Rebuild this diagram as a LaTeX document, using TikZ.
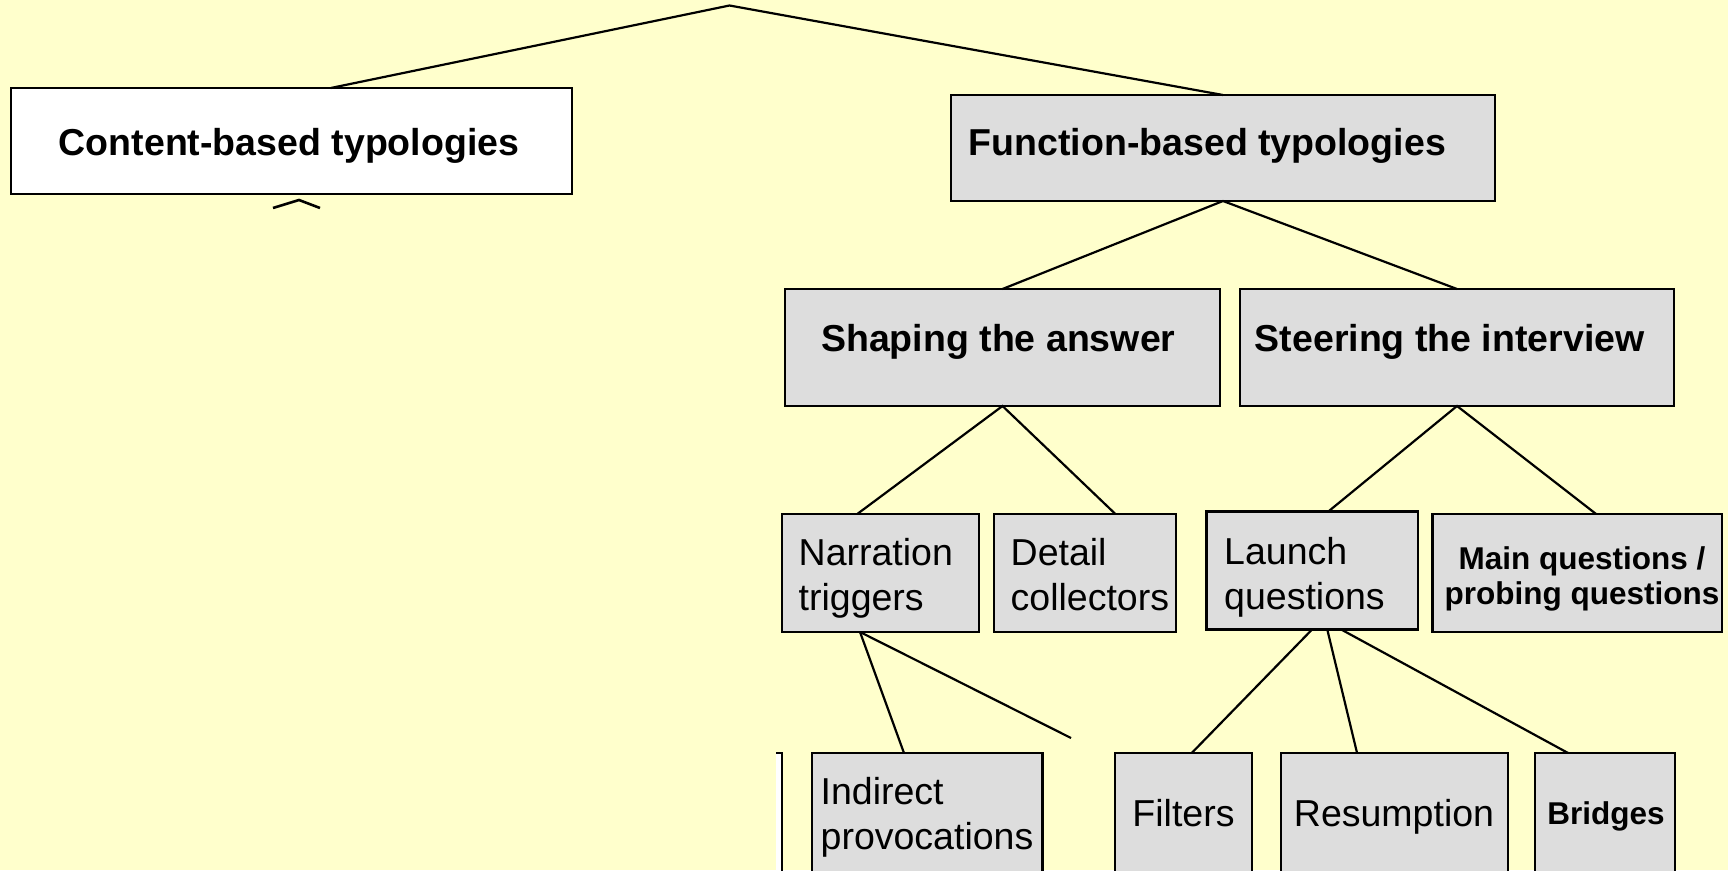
\documentclass[tikz,border=0pt]{standalone}
\usepackage{fontspec}
\setmainfont{Liberation Sans}
\usetikzlibrary{calc}
\definecolor{bgy}{HTML}{FFFFCC}
\definecolor{boxg}{HTML}{DDDDDD}
\newcommand\rA{\rule{0pt}{30pt}}
\newcommand\rB{\rule{0pt}{25pt}}
\begin{document}
\begin{tikzpicture}[x=1pt,y=-1pt,
  boxx/.style={draw=black, line width=2.6pt, fill=boxg, inner sep=0pt, outer sep=0pt, anchor=north west},
  wbox/.style={boxx, fill=white},
  ttl/.style={inner sep=0pt, font=\bfseries\fontsize{37.5}{45}\selectfont},
  reg/.style={inner sep=0pt, align=left, font=\fontsize{37.5}{45.7}\selectfont},
  sml/.style={inner sep=0pt, align=center, font=\bfseries\fontsize{31.5}{35.5}\selectfont},
  ln/.style={line width=2.2pt, draw=black}]
\useasboundingbox (0,0) rectangle (1728,870);
\clip (0,0) rectangle (1728,870);
\fill[bgy] (0,0) rectangle (1728,870);

% boxes
\node[wbox, minimum width=561pt, minimum height=106pt] (cb) at (11,88) {};
\node[boxx, minimum width=544pt, minimum height=106pt] (fb) at (951,95) {};
\node[boxx, minimum width=435pt, minimum height=117pt] (sa) at (785,289) {};
\node[boxx, minimum width=434pt, minimum height=117pt] (si) at (1240,289) {};
\node[boxx, minimum width=197pt, minimum height=118pt] (nt) at (782,514) {};
\node[boxx, minimum width=182pt, minimum height=118pt] (dc) at (994,514) {};
\node[boxx, minimum width=211.5pt, minimum height=118pt] (lq) at (1206.5,511.5) {};
\node[boxx, minimum width=289.5pt, minimum height=118pt] (mq) at (1432.5,514) {};
\node[boxx, minimum width=230.5pt, minimum height=125pt] (ip) at (812,753) {};
\node[boxx, minimum width=137pt, minimum height=125pt] (fi) at (1115,753) {};
\node[boxx, minimum width=227pt, minimum height=125pt] (re) at (1281,753) {};
\node[boxx, minimum width=140pt, minimum height=125pt] (br) at (1535,753) {};

% clipped fragment of a box at the bottom left
\fill[white] (776,753) rectangle (782,875);
\draw[line width=2.6pt] (776,753) -- (782,753) -- (782,875);

% texts
\node[ttl, anchor=base] (cbt) at (289,155) {Content-based typologies};
\node[ttl, anchor=base west] (fbt) at (968.6,155) {Function-based typologies};
\node[ttl, anchor=base west] (sat) at (821,351) {Shaping the answer};
\node[ttl, anchor=base west] (sit) at (1254.6,351) {Steering the interview};
\node[reg, anchor=north west] (ntt) at (798.5,535) {\rA Narration\\triggers};
\node[reg, anchor=north west] (dct) at (1010.5,535) {\rA Detail\\collectors};
\node[reg, anchor=north west] (lqt) at (1224,534) {\rA Launch\\questions};
\node[sml, anchor=north] (mqt) at (1582,544) {\rB Main questions /\\probing questions};
\node[reg, anchor=north west] (ipt) at (820.5,774) {\rA Indirect\\provocations};
\node[reg, anchor=base] (fit) at (1183.5,826.7) {Filters};
\node[reg, anchor=base] (ret) at (1394,826.7) {Resumption};
\node[sml, anchor=base] (brt) at (1606,824) {Bridges};

% connectors
\coordinate (apex) at (729.5,5.5);
\coordinate (loose) at (1071,738);
\draw[ln] ($(cb.north west)!0.57!(cb.north east)$) -- (apex) -- (fb.north);
\draw[ln] (sa.north) -- (fb.south) -- (si.north);
\draw[ln] ($(nt.north west)!0.382!(nt.north east)$) -- (sa.south) -- ($(dc.north west)!0.667!(dc.north east)$);
\draw[ln] ($(lq.north west)!0.576!(lq.north east)$) -- (si.south) -- ($(mq.north west)!0.565!(mq.north east)$);
\coordinate (ntb) at ($(nt.south west)!0.396!(nt.south east)$);
\draw[ln] (ntb) -- ($(ip.north west)!0.399!(ip.north east)$);
\draw[ln] (ntb) -- (loose);
\draw[ln] ($(lq.south west)!0.499!(lq.south east)$) -- ($(fi.north west)!0.56!(fi.north east)$);
\draw[ln] ($(lq.south west)!0.571!(lq.south east)$) -- ($(re.north west)!0.335!(re.north east)$);
\draw[ln] ($(lq.south west)!0.637!(lq.south east)$) -- ($(br.north west)!0.236!(br.north east)$);

% small caret below the content box
\draw[ln, line width=2.6pt] (273,208) -- (299,200) -- (320,208);
\end{tikzpicture}
\end{document}
